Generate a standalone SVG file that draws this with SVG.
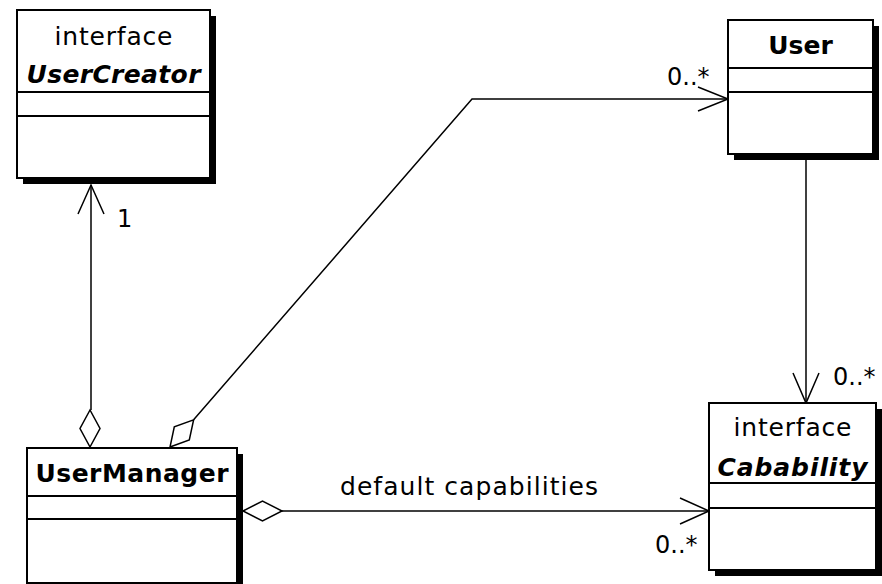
<svg xmlns="http://www.w3.org/2000/svg" width="882" height="584" viewBox="0 0 882 584">
<style>
.shadow{fill:#000;stroke:none}
.box{fill:#fff;stroke:#000;stroke-width:2}
.div{stroke:#000;stroke-width:2}
.t{font-family:"DejaVu Sans","Liberation Sans",sans-serif;font-size:25px;fill:#000}
.name{font-weight:bold;text-anchor:middle}
.it{font-style:italic}
.mid{text-anchor:middle}
.lbl{font-family:"DejaVu Sans","Liberation Sans",sans-serif;font-size:24px;fill:#000}
.con{fill:none;stroke:#000;stroke-width:1.5}
.dia{fill:#fff;stroke:#000;stroke-width:1.5}
</style>
<rect width="882" height="584" fill="#fff"/>
<g id="connectors">
<line class="con" x1="91" y1="185" x2="91" y2="410"/>
<polyline class="con" points="78,214 91,185 104,214"/>
<polygon class="dia" points="90,410 80,428.5 90,447 100,428.5"/>
<polyline class="con" points="193.6,419.8 472,99 728,99"/>
<polyline class="con" points="698,87 728,99 698,111"/>
<polygon class="dia" points="170,447 189.3,440 193.6,419.8 174.3,426.8"/>
<line class="con" x1="806" y1="160" x2="806" y2="403"/>
<polyline class="con" points="793,373 806,403 819,373"/>
<line class="con" x1="282" y1="511" x2="709" y2="511"/>
<polyline class="con" points="680,498 709,511 680,524"/>
<polygon class="dia" points="243,511 262.5,501 282,511 262.5,521"/>
<text class="lbl" x="117" y="227" font-size="26">1</text>
<text class="lbl" x="667" y="85">0..*</text>
<text class="lbl" x="833" y="385">0..*</text>
<text class="lbl" x="655" y="553">0..*</text>
<text class="t" x="340" y="495" textLength="258" lengthAdjust="spacing">default capabilities</text>
</g>
<g id="UserCreator">
<rect class="shadow" x="23" y="16" width="193" height="168"/>
<rect class="box" x="17" y="10" width="193" height="168"/>
<line class="div" x1="17" y1="92" x2="210" y2="92"/>
<line class="div" x1="17" y1="116" x2="210" y2="116"/>
<text class="t mid" x="113.5" y="45" textLength="118" lengthAdjust="spacing">interface</text>
<text class="t name it" x="113.5" y="83" textLength="174" lengthAdjust="spacing">UserCreator</text>
</g>
<g id="User">
<rect class="shadow" x="734" y="26" width="145" height="134"/>
<rect class="box" x="728" y="20" width="145" height="134"/>
<line class="div" x1="728" y1="68" x2="873" y2="68"/>
<line class="div" x1="728" y1="92" x2="873" y2="92"/>
<text class="t name" x="800.5" y="54">User</text>
</g>
<g id="UserManager">
<rect class="shadow" x="33" y="454" width="210" height="135"/>
<rect class="box" x="27" y="448" width="210" height="135"/>
<line class="div" x1="27" y1="496" x2="237" y2="496"/>
<line class="div" x1="27" y1="519" x2="237" y2="519"/>
<text class="t name" x="132" y="482" textLength="193" lengthAdjust="spacing">UserManager</text>
</g>
<g id="Cabability">
<rect class="shadow" x="715" y="409" width="167" height="167"/>
<rect class="box" x="709" y="403" width="167" height="167"/>
<line class="div" x1="709" y1="483" x2="876" y2="483"/>
<line class="div" x1="709" y1="508" x2="876" y2="508"/>
<text class="t mid" x="792.5" y="436" textLength="118" lengthAdjust="spacing">interface</text>
<text class="t name it" x="792.5" y="476" textLength="150" lengthAdjust="spacing">Cabability</text>
</g>
</svg>
